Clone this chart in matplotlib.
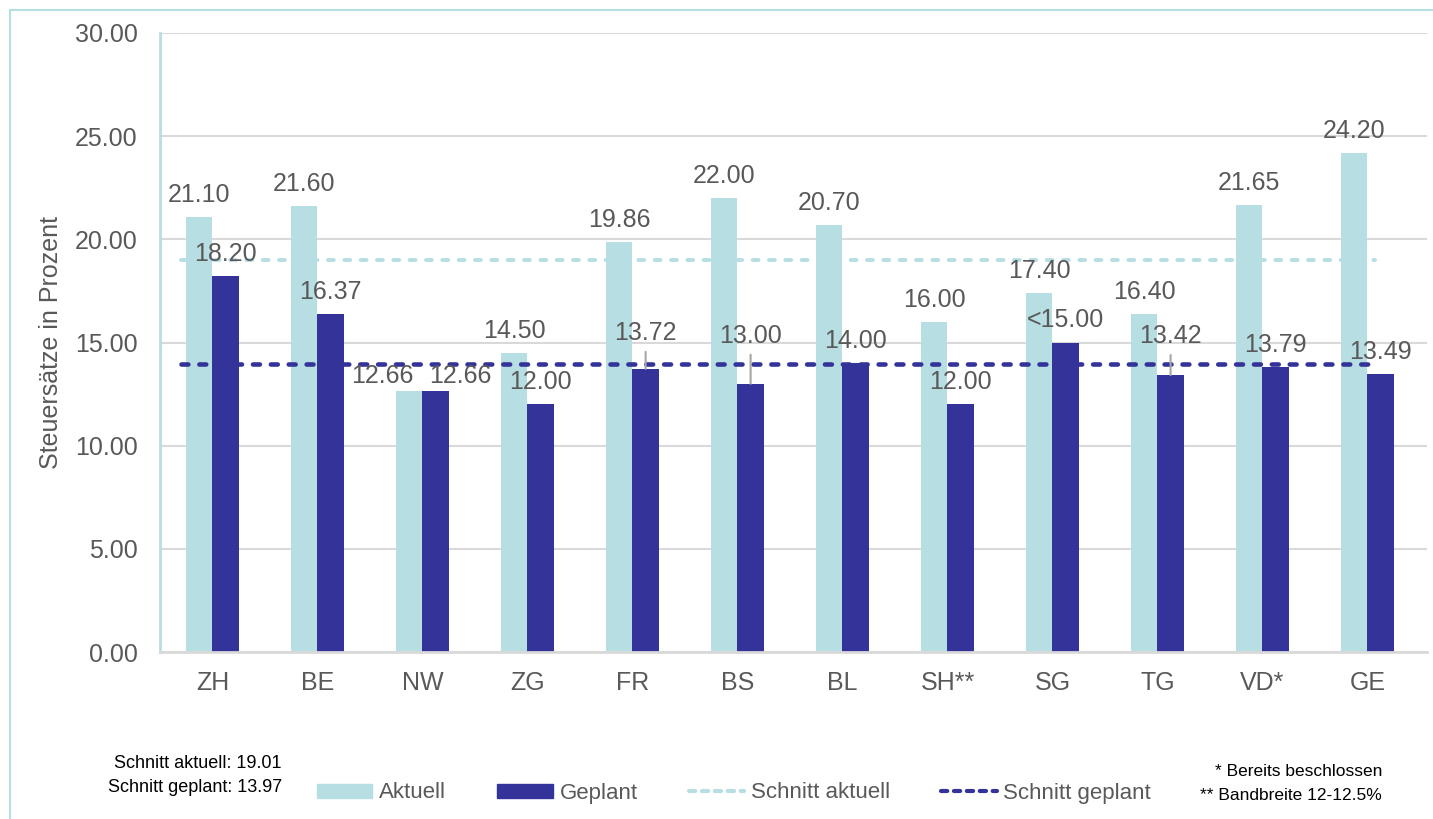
import matplotlib
matplotlib.use("Agg")
import matplotlib.pyplot as plt
import numpy as np
from matplotlib.patches import Rectangle, Patch
from matplotlib.lines import Line2D

plt.rcParams['font.family'] = ['Liberation Sans', 'DejaVu Sans']

cantons = ["ZH", "BE", "NW", "ZG", "FR", "BS", "BL", "SH**", "SG", "TG", "VD*", "GE"]
aktuell = [21.10, 21.60, 12.66, 14.50, 19.86, 22.00, 20.70, 16.00, 17.40, 16.40, 21.65, 24.20]
geplant = [18.20, 16.37, 12.66, 12.00, 13.72, 13.00, 14.00, 12.00, 15.00, 13.42, 13.79, 13.49]
geplant_text = ["18.20", "16.37", "12.66", "12.00", "13.72", "13.00", "14.00", "12.00",
                "<15.00", "13.42", "13.79", "13.49"]
schnitt_aktuell = 19.01
schnitt_geplant = 13.97

LIGHT = "#B7DEE2"
DARK = "#333399"
GREY = "#595959"

# label placement tweaks (pixels): index -> (dx, dy)
akt_offsets = {2: (-27, 8)}
gep_offsets = {2: (25, 8), 4: (0, 29), 5: (0, 41), 9: (0, 32)}
leaders = {4, 5, 9}

W, H = 1433, 819
fig = plt.figure(figsize=(W / 100, H / 100), dpi=100)
ax = fig.add_axes([160 / W, 1 - 652 / H, 1267 / W, 619 / H])

x = np.arange(len(cantons))
bw = 0.25
ax.bar(x - bw / 2, aktuell, bw, color=LIGHT, zorder=2, label="Aktuell")
ax.bar(x + bw / 2, geplant, bw, color=DARK, zorder=2, label="Geplant")

ax.plot([-0.3, 11.07], [schnitt_aktuell] * 2, color=LIGHT, lw=2.8,
        dashes=(1.5, 2.7), dash_capstyle='round', zorder=3)
ax.plot([-0.3, 11.07], [schnitt_geplant] * 2, color=DARK, lw=3.3,
        dashes=(1.5, 2.4), dash_capstyle='round', zorder=3)

for i, v in enumerate(aktuell):
    dx, dy = akt_offsets.get(i, (0, 15))
    ax.annotate(f"{v:.2f}", (x[i] - bw / 2, v), xytext=(dx, dy), textcoords='offset pixels',
                ha='center', va='baseline', fontsize=18, color=GREY, zorder=4)

for i, v in enumerate(geplant):
    dx, dy = gep_offsets.get(i, (0, 15))
    arrow = None
    if i in leaders:
        arrow = dict(arrowstyle='-', color="#A6A6A6", lw=1.5, shrinkA=3, shrinkB=0)
    ax.annotate(geplant_text[i], (x[i] + bw / 2, v), xytext=(dx, dy), textcoords='offset pixels',
                ha='center', va='baseline', fontsize=18, color=GREY, zorder=4,
                arrowprops=arrow)

ax.set_xlim(-0.5, 11.567)
ax.set_ylim(0, 30)
ax.set_yticks(np.arange(0, 31, 5))
ax.set_yticklabels([f"{t:.2f}" for t in np.arange(0, 31, 5)])
ax.set_xticks(x)
ax.set_xticklabels(cantons)
ax.tick_params(axis='y', length=0, pad=16, labelsize=18, labelcolor=GREY)
ax.tick_params(axis='x', length=0, pad=14, labelsize=18, labelcolor=GREY)
ax.grid(axis='y', color="#D9D9D9", lw=1.5, zorder=0)
ax.set_axisbelow(True)
for s in ["top", "right"]:
    ax.spines[s].set_visible(False)
ax.spines["left"].set_color(LIGHT)
ax.spines["left"].set_linewidth(2)
ax.spines["bottom"].set_color("#D9D9D9")
ax.spines["bottom"].set_linewidth(2)

ax.set_ylabel("Steuersätze in Prozent", fontsize=18, color=GREY, va='center')
ax.yaxis.set_label_coords((51 - 160) / 1267, 0.5)

handles = [
    Patch(color=LIGHT, label="Aktuell"),
    Patch(color=DARK, label="Geplant"),
    Line2D([], [], color=LIGHT, lw=3, dashes=(1.5, 1.6), dash_capstyle='round', label="Schnitt aktuell"),
    Line2D([], [], color=DARK, lw=3, dashes=(1.5, 1.6), dash_capstyle='round', label="Schnitt geplant"),
]
fig.legend(handles=handles, loc='center', bbox_to_anchor=(734 / W, 1 - 793 / H), ncol=4,
           frameon=False, fontsize=16, handlelength=2.5, handleheight=0.6,
           handletextpad=0.3, columnspacing=2.3, labelcolor=GREY)

fig.text(282 / W, 1 - 764 / H, f"Schnitt aktuell: {schnitt_aktuell:.2f}", ha='right', va='center',
         fontsize=13, color="black")
fig.text(282 / W, 1 - 788 / H, f"Schnitt geplant: {schnitt_geplant:.2f}", ha='right', va='center',
         fontsize=13, color="black")
fig.text(1215 / W, 1 - 771 / H, "* Bereits beschlossen", ha='left', va='center',
         fontsize=12.5, color="black")
fig.text(1200 / W, 1 - 795 / H, "** Bandbreite 12-12.5%", ha='left', va='center',
         fontsize=12.5, color="black")

fig.add_artist(Rectangle((9.5 / W, -0.05), 1.1, 1.05 - 9.5 / H, transform=fig.transFigure,
                         fill=False, ec=LIGHT, lw=1.5))

fig.savefig("out.png", dpi=100)
